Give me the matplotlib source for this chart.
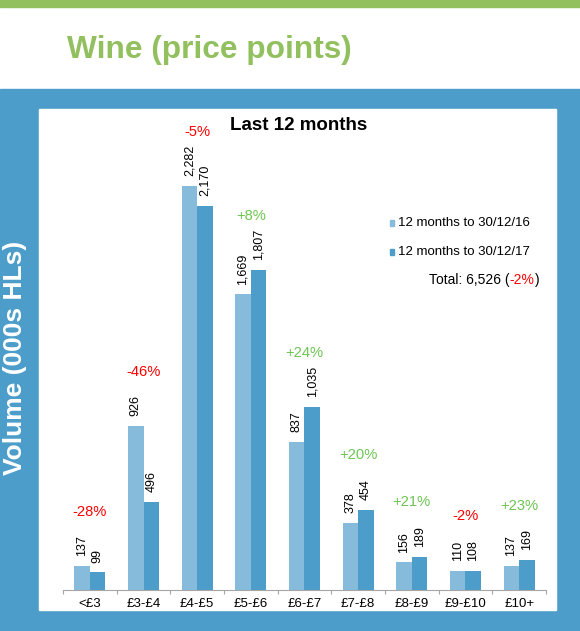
import matplotlib
matplotlib.use("Agg")
import matplotlib.pyplot as plt
from matplotlib.patches import Rectangle
import numpy as np

# data
categories = ['<£3', '£3-£4', '£4-£5', '£5-£6', '£6-£7', '£7-£8', '£8-£9', '£9-£10', '£10+']
vol_2016 = [137, 926, 2282, 1669, 837, 378, 156, 110, 137]
vol_2017 = [99, 496, 2170, 1807, 1035, 454, 189, 108, 169]
pct_change = ['-28%', '-46%', '-5%', '+8%', '+24%', '+20%', '+21%', '-2%', '+23%']
series_names = ['12 months to 30/12/16', '12 months to 30/12/17']
total_text = 'Total: 6,526 ('
total_pct = '-2%'

plt.rcParams['font.family'] = ['Liberation Sans', 'DejaVu Sans']

green = '#92C05F'
frame_blue = '#4D9DCA'
light_bar = '#86BBDC'
dark_bar = '#4D9DCA'
red = '#FF0000'
pos_green = '#6DC553'
grey = '#A6A6A6'

W, H = 580, 631


def fx(px):
    return px / W


def fy(py):
    return 1 - py / H


fig = plt.figure(figsize=(W / 100, H / 100), dpi=100)

# background pieces
fig.add_artist(Rectangle((0, fy(7)), 1, 7 / H, transform=fig.transFigure,
                         color=green, zorder=-10))
fig.add_artist(Rectangle((0, 0), 1, fy(89), transform=fig.transFigure,
                         color=frame_blue, zorder=-10))
fig.add_artist(Rectangle((fx(39), fy(610)), (556 - 39) / W, (610 - 109) / H,
                         transform=fig.transFigure, color='white', zorder=-9))

fig.text(fx(67), fy(58), 'Wine (price points)', ha='left', va='baseline',
         fontsize=22.8, fontweight='bold', color=green)
fig.text(fx(15), fy(358), 'Volume (000s HLs)', rotation=90, ha='center',
         va='center', fontsize=19, fontweight='bold', color='white')
fig.text(fx(299), fy(130), 'Last 12 months', ha='center', va='baseline',
         fontsize=13.5, fontweight='bold', color='black')

ax = fig.add_axes([fx(63), fy(590), (546 - 63) / W, (590 - 109) / H])
ax.set_facecolor('none')

x = np.arange(len(categories))
w = 0.29
ax.bar(x - w / 2, vol_2016, w, color=light_bar)
ax.bar(x + w / 2, vol_2017, w, color=dark_bar)

ax.set_xlim(-0.5, len(categories) - 0.5)
ax.set_ylim(0, 2716)

# value labels
for xi, v in zip(x - w / 2, vol_2016):
    ax.annotate(f'{v:,}', (xi, v), xytext=(0, 7), textcoords='offset points',
                rotation=90, ha='center', va='bottom', fontsize=9)
for xi, v in zip(x + w / 2, vol_2017):
    ax.annotate(f'{v:,}', (xi, v), xytext=(0, 7), textcoords='offset points',
                rotation=90, ha='center', va='bottom', fontsize=9)

# change labels
for xi, a, b, p in zip(x, vol_2016, vol_2017, pct_change):
    c = red if p.startswith('-') else pos_green
    ax.annotate(p, (xi, max(a, b)), xytext=(0, 39), textcoords='offset points',
                ha='center', va='center', fontsize=10.6, color=c,
                annotation_clip=False)

for s in ['left', 'top', 'right']:
    ax.spines[s].set_visible(False)
ax.spines['bottom'].set_color(grey)
ax.set_yticks([])
ax.set_xticks(np.arange(-0.5, len(categories), 1))
ax.set_xticks(x, minor=True)
ax.set_xticklabels(categories, minor=True)
ax.tick_params(axis='x', which='major', length=3, color=grey, labelbottom=False)
ax.tick_params(axis='x', which='minor', length=0, pad=5.8, labelsize=9.5)

# legend
for yy, col, name in zip([223, 252], [light_bar, dark_bar], series_names):
    fig.add_artist(Rectangle((fx(390), fy(yy + 3)), 4 / W, 6 / H,
                             transform=fig.transFigure, color=col))
    fig.text(fx(398), fy(yy), name, ha='left', va='center', fontsize=9.5)

t1 = fig.text(fx(429), fy(280), total_text, ha='left', va='center', fontsize=10)
t2 = ax.annotate(total_pct, xy=(1, 0), xycoords=t1, ha='left', va='bottom',
                 fontsize=10, color=red, annotation_clip=False)
ax.annotate(')', xy=(1, 0), xycoords=t2, ha='left', va='bottom',
            fontsize=10, annotation_clip=False)

fig.savefig('out.png', dpi=100)
